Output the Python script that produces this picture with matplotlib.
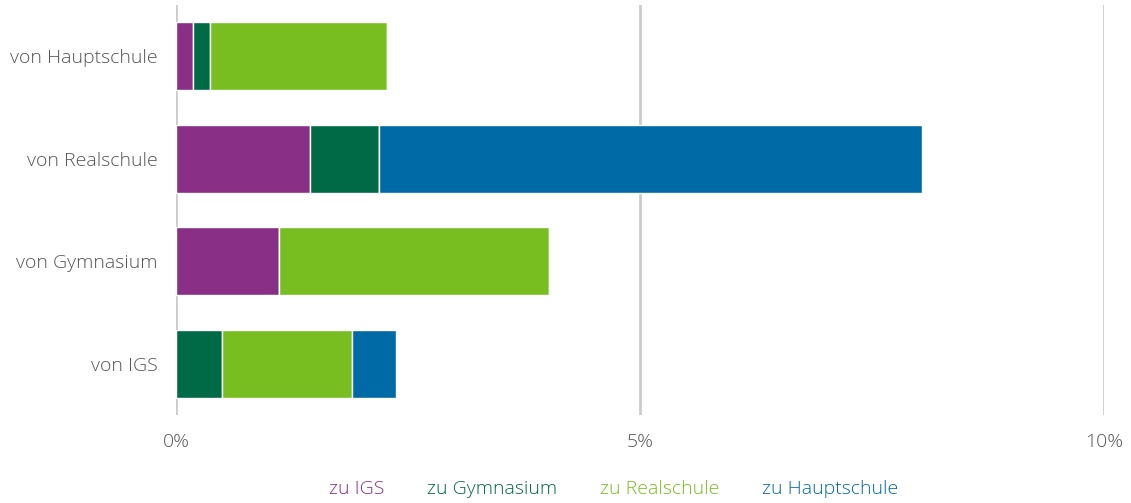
import matplotlib
matplotlib.use("Agg")
import matplotlib.pyplot as plt
import numpy as np

categories = ["von Hauptschule", "von Realschule", "von Gymnasium", "von IGS"]
series = ["zu IGS", "zu Gymnasium", "zu Realschule", "zu Hauptschule"]
colors = ["#8A2F86", "#006A46", "#78BE20", "#006AA6"]
values = {
    "zu IGS":         [0.18, 1.44, 1.11, 0.0],
    "zu Gymnasium":   [0.19, 0.75, 0.0, 0.50],
    "zu Realschule":  [1.90, 0.0, 2.91, 1.40],
    "zu Hauptschule": [0.0, 5.85, 0.0, 0.47],
}
xticks = [0, 5, 10]
xticklabels = ["0%", "5%", "10%"]

plt.rcParams['font.family'] = ['Open Sans', 'DejaVu Sans']
fig = plt.figure(figsize=(11.31, 5.03), dpi=100)
ax = fig.add_axes([176/1131, 1 - 415/503, (1104-176)/1131, 410/503])

y = np.arange(len(categories))
left = np.zeros(len(categories))
for s, c in zip(series, colors):
    v = np.array(values[s])
    ax.barh(y, v, left=left, height=0.66, color=c, edgecolor="white", linewidth=1, zorder=3, label=s)
    left += v

ax.set_xlim(0, 10)
ax.set_ylim(3.5, -0.5)
ax.set_yticks(y)
ax.set_yticklabels(categories, fontsize=14, color="#555555", fontweight="light")
ax.set_xticks(xticks)
ax.set_xticklabels(xticklabels, fontsize=14, color="#555555", fontweight="light")
ax.tick_params(axis="both", length=0)
ax.tick_params(axis="y", pad=13)
ax.tick_params(axis="x", pad=13)
ax.grid(axis="x", color="#cccccc", linewidth=2, zorder=0)
for sp in ax.spines.values():
    sp.set_visible(False)

from matplotlib.patches import Patch
handles = [Patch(facecolor="none", edgecolor="none") for _ in series]
leg = fig.legend(handles, series, loc="center", bbox_to_anchor=(614/1131, 1 - 489/503),
                 ncol=4, frameon=False, handlelength=0, handletextpad=0,
                 columnspacing=2.2, fontsize=14, labelcolor=colors)
for t in leg.get_texts():
    t.set_fontweight("light")

fig.savefig("out.png", dpi=100)
